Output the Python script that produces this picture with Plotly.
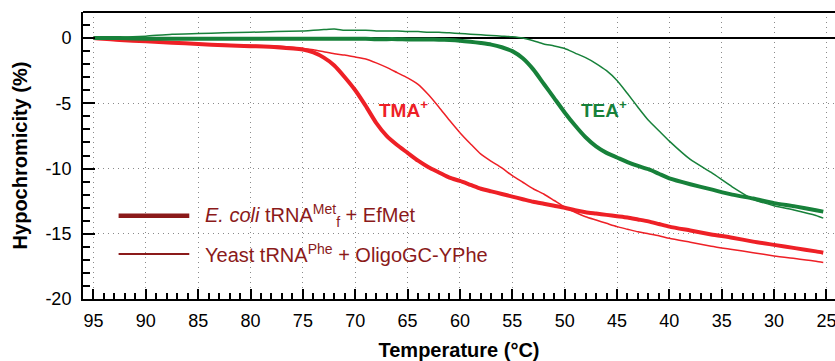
import plotly.graph_objects as go

# Temperature grid (°C)
temperature = [95, 92.5, 90, 87.5, 85, 82.5, 80, 77.5, 75, 74, 73, 72, 71, 70, 69, 68, 67, 66, 65,
               64, 63, 62, 61, 60, 59, 58, 57, 56, 55, 54, 53, 52, 51, 50, 49, 48, 47, 46, 45,
               44, 43, 42, 41, 40, 38, 36, 34, 32, 30, 28, 26, 25.3]

# E. coli tRNAfMet + EfMet, TMA+ (thick red)
ecoli_tma = [0, -0.15, -0.25, -0.35, -0.45, -0.55, -0.62, -0.7, -0.88, -1.1, -1.5, -2.1, -3.0,
             -4.0, -5.2, -6.5, -7.5, -8.2, -8.8, -9.4, -9.9, -10.3, -10.7, -10.95, -11.25, -11.55,
             -11.75, -11.95, -12.15, -12.35, -12.55, -12.7, -12.85, -13.0, -13.2, -13.35, -13.45,
             -13.55, -13.65, -13.75, -13.9, -14.05, -14.25, -14.45, -14.75, -15.05, -15.3, -15.6,
             -15.85, -16.1, -16.35, -16.45]

# Yeast tRNAPhe + OligoGC-YPhe, TMA+ (thin red)
yeast_tma = [0, -0.15, -0.25, -0.35, -0.45, -0.5, -0.55, -0.6, -0.8, -0.9, -1.05, -1.2, -1.3,
             -1.45, -1.6, -1.9, -2.25, -2.65, -3.05, -3.55, -4.35, -5.3, -6.3, -7.25, -8.1, -8.9,
             -9.45, -9.95, -10.55, -11.05, -11.55, -11.95, -12.45, -12.95, -13.35, -13.7, -13.95,
             -14.2, -14.45, -14.65, -14.85, -15.0, -15.15, -15.35, -15.65, -15.95, -16.2, -16.45,
             -16.7, -16.9, -17.1, -17.2]

# E. coli tRNAfMet + EfMet, TEA+ (thick green)
ecoli_tea = [0, 0, -0.05, -0.05, -0.05, -0.05, -0.05, -0.05, -0.05, -0.05, -0.05, -0.05, -0.05,
             -0.05, -0.05, -0.08, -0.08, -0.08, -0.1, -0.1, -0.1, -0.12, -0.15, -0.2, -0.28, -0.38,
             -0.5, -0.7, -1.0, -1.55, -2.4, -3.5, -4.6, -5.7, -6.7, -7.6, -8.3, -8.8, -9.15,
             -9.5, -9.8, -10.05, -10.4, -10.75, -11.2, -11.6, -12.0, -12.3, -12.65, -12.9, -13.2,
             -13.3]

# Yeast tRNAPhe + OligoGC-YPhe, TEA+ (thin green)
yeast_tea = [0, 0.05, 0.15, 0.3, 0.35, 0.4, 0.45, 0.5, 0.55, 0.6, 0.65, 0.7, 0.6, 0.6, 0.6, 0.55,
             0.55, 0.55, 0.5, 0.5, 0.45, 0.45, 0.4, 0.35, 0.3, 0.25, 0.2, 0.15, 0.1, 0.0, -0.2,
             -0.45, -0.6, -0.8, -1.15, -1.5, -1.95, -2.5, -3.25, -4.25, -5.3, -6.3, -7.1, -7.9, -9.3,
             -10.3, -11.4, -12.35, -12.85, -13.2, -13.6, -13.8]

x_ticks = [95, 90, 85, 80, 75, 70, 65, 60, 55, 50, 45, 40, 35, 30, 25]
x_ticklabels = ["95", "90", "85", "80", "75", "70", "65", "60", "55", "50", "45", "40", "35", "30", "25"]
y_ticks = [-20, -15, -10, -5, 0]
y_ticklabels = ["-20", "-15", "-10", "-5", "0"]

legend_labels = ["<i>E. coli</i> tRNA<sup>Met</sup><sub>f</sub> + EfMet",
                 "Yeast tRNA<sup>Phe</sup> + OligoGC-YPhe"]
series_labels = ["TMA<sup>+</sup>", "TEA<sup>+</sup>"]

RED = "#EE2026"
GREEN = "#17813A"
DARKRED = "#8B1A1A"
FONT = "Liberation Sans, Arial, Helvetica, sans-serif"

fig = go.Figure()
fig.add_trace(go.Scatter(x=temperature, y=yeast_tma, mode="lines",
                         line=dict(color=RED, width=1.5, shape="spline", smoothing=0.6),
                         showlegend=False))
fig.add_trace(go.Scatter(x=temperature, y=ecoli_tma, mode="lines",
                         line=dict(color=RED, width=4, shape="spline", smoothing=0.6),
                         showlegend=False))
fig.add_trace(go.Scatter(x=temperature, y=yeast_tea, mode="lines",
                         line=dict(color=GREEN, width=1.5, shape="spline", smoothing=0.6),
                         showlegend=False))
fig.add_trace(go.Scatter(x=temperature, y=ecoli_tea, mode="lines",
                         line=dict(color=GREEN, width=4, shape="spline", smoothing=0.6),
                         showlegend=False))

# Legend (drawn as key lines + labels)
legend_y = [-13.62, -16.55]
legend_w = [4.5, 1.8]
for lab, ly, lw in zip(legend_labels, legend_y, legend_w):
    fig.add_shape(type="line", x0=92.6, x1=85.85, y0=ly, y1=ly, xref="x", yref="y",
                  line=dict(color=DARKRED, width=lw))
    fig.add_annotation(x=84.55, y=ly, xref="x", yref="y", text=lab, showarrow=False,
                       xanchor="left", yanchor="middle",
                       font=dict(family=FONT, size=20, color=DARKRED))

# Series labels
fig.add_annotation(x=67.95, y=-5.45, text="<b>" + series_labels[0] + "</b>", showarrow=False,
                   xanchor="left", yanchor="middle", font=dict(family=FONT, size=19, color=RED))
fig.add_annotation(x=48.65, y=-5.45, text="<b>" + series_labels[1] + "</b>", showarrow=False,
                   xanchor="left", yanchor="middle", font=dict(family=FONT, size=19, color=GREEN))

# top frame line
fig.add_shape(type="line", x0=0, x1=1, y0=1, y1=1, xref="paper", yref="paper",
              line=dict(color="black", width=2))

fig.update_layout(
    width=835, height=361,
    margin=dict(l=83, r=0, t=12, b=62),
    paper_bgcolor="white", plot_bgcolor="white",
    font=dict(family=FONT, size=18, color="black"),
    showlegend=False,
)
fig.update_xaxes(
    range=[96, 24.18], tickvals=x_ticks, ticktext=x_ticklabels, automargin=False,
    ticklabeloverflow="allow",
    ticks="inside", ticklen=10, tickwidth=2, tickcolor="black",
    showline=True, linewidth=2, linecolor="black",
    showgrid=True, gridcolor="#8a8a8a", gridwidth=1, griddash="1px,4px",
    zeroline=False, ticklabelstandoff=4,
    minor=dict(tick0=0, dtick=1, ticks="inside", ticklen=6, tickwidth=1.5, tickcolor="black",
               showgrid=False),
    title=dict(text="<b>Temperature (°C)</b>", font=dict(size=20), standoff=14),
    tickfont=dict(size=18),
)
fig.update_yaxes(
    range=[-20, 2], tickvals=y_ticks, ticktext=y_ticklabels, automargin=False,
    ticks="inside", ticklen=12, tickwidth=2, tickcolor="black",
    showline=True, linewidth=2, linecolor="black",
    showgrid=True, gridcolor="#8a8a8a", gridwidth=1, griddash="1px,4px",
    zeroline=True, zerolinecolor="black", zerolinewidth=2, ticklabelstandoff=6,
    minor=dict(tick0=0, dtick=1, ticks="inside", ticklen=7, tickwidth=1.5, tickcolor="black",
               showgrid=False),
    title=dict(text="<b>Hypochromicity (%)</b>", font=dict(size=20), standoff=12),
    tickfont=dict(size=18),
)

# remove the page's default body margin so the figure fills the window exactly
fig.write_html("out.html",
               config={"displayModeBar": False},
               post_script="document.body.style.margin='0';document.body.style.overflow='hidden';")
